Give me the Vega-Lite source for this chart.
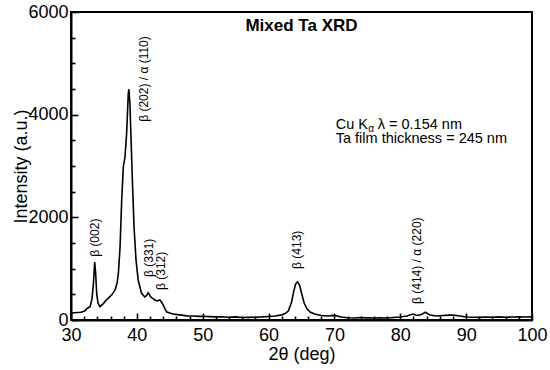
{
  "$schema": "https://vega.github.io/schema/vega-lite/v6.json",
  "width": 461,
  "height": 308,
  "autosize": "none",
  "padding": {"left": 71, "top": 12, "right": 18, "bottom": 50},
  "background": "white",
  "config": {
    "view": {"stroke": "black", "strokeWidth": 2},
    "font": "Liberation Sans"
  },
  "datasets": {
    "curve": [
      {"x": 30, "y": 135}, {"x": 30.5, "y": 140}, {"x": 31, "y": 145}, {"x": 31.5, "y": 150},
      {"x": 32, "y": 170}, {"x": 32.5, "y": 230}, {"x": 32.9, "y": 260}, {"x": 33.2, "y": 420},
      {"x": 33.4, "y": 700}, {"x": 33.6, "y": 1130}, {"x": 33.75, "y": 900}, {"x": 33.9, "y": 520},
      {"x": 34.1, "y": 330}, {"x": 34.4, "y": 260}, {"x": 34.9, "y": 320}, {"x": 35.3, "y": 380},
      {"x": 35.7, "y": 430}, {"x": 36.2, "y": 490}, {"x": 36.7, "y": 590}, {"x": 37.0, "y": 720},
      {"x": 37.2, "y": 915}, {"x": 37.45, "y": 1430}, {"x": 37.7, "y": 2340}, {"x": 37.95, "y": 2990},
      {"x": 38.2, "y": 3180}, {"x": 38.45, "y": 3640}, {"x": 38.7, "y": 4420}, {"x": 38.8, "y": 4495},
      {"x": 38.95, "y": 4200}, {"x": 39.06, "y": 3770}, {"x": 39.3, "y": 2790}, {"x": 39.57, "y": 1820},
      {"x": 39.87, "y": 1170}, {"x": 40.2, "y": 780}, {"x": 40.7, "y": 525}, {"x": 41.2, "y": 450},
      {"x": 41.5, "y": 480}, {"x": 41.7, "y": 530}, {"x": 41.9, "y": 500}, {"x": 42.1, "y": 450},
      {"x": 42.4, "y": 420}, {"x": 42.75, "y": 390}, {"x": 43.1, "y": 370}, {"x": 43.5, "y": 390},
      {"x": 43.8, "y": 340}, {"x": 44.0, "y": 290}, {"x": 44.3, "y": 210}, {"x": 44.5, "y": 160},
      {"x": 45, "y": 135}, {"x": 45.5, "y": 117}, {"x": 46.5, "y": 100}, {"x": 47.6, "y": 80},
      {"x": 48.5, "y": 78}, {"x": 49.5, "y": 70}, {"x": 50, "y": 72}, {"x": 51, "y": 65},
      {"x": 52, "y": 60}, {"x": 53, "y": 62}, {"x": 54, "y": 55}, {"x": 55, "y": 60},
      {"x": 56, "y": 50}, {"x": 57, "y": 52}, {"x": 58, "y": 55}, {"x": 59, "y": 60},
      {"x": 60, "y": 68}, {"x": 61, "y": 78}, {"x": 62, "y": 100}, {"x": 62.5, "y": 125},
      {"x": 63, "y": 175}, {"x": 63.5, "y": 350}, {"x": 63.8, "y": 545}, {"x": 64.1, "y": 700},
      {"x": 64.4, "y": 745}, {"x": 64.7, "y": 680}, {"x": 65, "y": 525}, {"x": 65.4, "y": 330},
      {"x": 65.8, "y": 225}, {"x": 66.3, "y": 155}, {"x": 67, "y": 117}, {"x": 68, "y": 88},
      {"x": 69, "y": 78}, {"x": 69.7, "y": 90}, {"x": 70.2, "y": 85}, {"x": 71, "y": 58},
      {"x": 72, "y": 45}, {"x": 73, "y": 40}, {"x": 74, "y": 48}, {"x": 75, "y": 42},
      {"x": 76, "y": 38}, {"x": 77, "y": 45}, {"x": 78, "y": 40}, {"x": 79, "y": 48},
      {"x": 80, "y": 58}, {"x": 81, "y": 78}, {"x": 81.9, "y": 117}, {"x": 82.5, "y": 88},
      {"x": 83.2, "y": 105}, {"x": 83.8, "y": 150}, {"x": 84.5, "y": 97}, {"x": 85.5, "y": 78},
      {"x": 86.5, "y": 88}, {"x": 87.5, "y": 95}, {"x": 88, "y": 97}, {"x": 89, "y": 78},
      {"x": 90, "y": 58}, {"x": 91, "y": 55}, {"x": 92, "y": 52}, {"x": 93, "y": 58},
      {"x": 94, "y": 55}, {"x": 95, "y": 60}, {"x": 96, "y": 55}, {"x": 97, "y": 58},
      {"x": 98, "y": 62}, {"x": 99, "y": 57}, {"x": 100, "y": 60}
    ],
    "peaks": [
      {"x": 33.64, "y": 1230, "t": "β (002)"},
      {"x": 41.1, "y": 3860, "t": "β (202) / α (110)"},
      {"x": 41.9, "y": 840, "t": "β (331)"},
      {"x": 43.7, "y": 585, "t": "β (312)"},
      {"x": 64.3, "y": 995, "t": "β (413)"},
      {"x": 82.5, "y": 312, "t": "β (414) / α (220)"}
    ],
    "title": [{"x": 65, "y": 5720, "t": "Mixed Ta XRD"}],
    "note": [{"x": 70.2, "y": 3520, "t": "Ta film thickness = 245 nm"}],
    "cu1": [{"x": 70.2, "y": 3799, "t": "Cu K"}],
    "cu2": [{"x": 70.2, "y": 3799, "t": "α"}],
    "cu3": [{"x": 70.2, "y": 3799, "t": "λ = 0.154 nm"}]
  },
  "resolve": {"axis": {"x": "independent", "y": "independent"}},
  "layer": [
    {
      "data": {"name": "curve"},
      "mark": {"type": "line", "color": "black", "strokeWidth": 1.6, "clip": true},
      "encoding": {
        "x": {
          "field": "x", "type": "quantitative",
          "scale": {"domain": [30, 100], "nice": false, "zero": false},
          "axis": {
            "orient": "bottom",
            "title": "2θ (deg)",
            "values": [30, 40, 50, 60, 70, 80, 90, 100],
            "ticks": false, "tickSize": 0,
            "labelPadding": 6,
            "domainWidth": 2, "domainColor": "black",
            "labelFont": "Liberation Sans", "labelFontSize": 18, "labelColor": "black", "labelFlush": false,
            "titleFont": "Liberation Sans", "titleFontSize": 18, "titleFontWeight": "normal", "titleColor": "black",
            "titlePadding": 1, "grid": false
          }
        },
        "y": {
          "field": "y", "type": "quantitative",
          "scale": {"domain": [0, 6000], "nice": false},
          "axis": {
            "orient": "left",
            "title": "Intensity (a.u.)",
            "values": [0, 2000, 4000, 6000],
            "format": "d",
            "ticks": false, "tickSize": 0,
            "labelPadding": 3,
            "domainWidth": 2, "domainColor": "black",
            "labelFont": "Liberation Sans", "labelFontSize": 18, "labelColor": "black", "labelFlush": false,
            "titleFont": "Liberation Sans", "titleFontSize": 18, "titleFontWeight": "normal", "titleColor": "black",
            "titlePadding": -3, "grid": false
          }
        }
      }
    },
    {
      "data": {"name": "peaks"},
      "mark": {"type": "text", "angle": 270, "align": "left", "baseline": "middle", "fontSize": 12, "font": "Liberation Sans", "color": "black"},
      "encoding": {
        "x": {
          "field": "x", "type": "quantitative",
          "axis": {
            "orient": "top", "offset": -308,
            "title": null, "labels": false, "domain": false, "grid": false,
            "values": [30,32,34,36,38,40,42,44,46,48,50,52,54,56,58,60,62,64,66,68,70,72,74,76,78,80,82,84,86,88,90,92,94,96,98,100],
            "tickSize": {"condition": {"test": "datum.value % 10 === 0", "value": 7}, "value": 4},
            "tickWidth": 1.6, "tickColor": "black"
          }
        },
        "y": {
          "field": "y", "type": "quantitative",
          "axis": {
            "orient": "right", "offset": -461,
            "title": null, "labels": false, "domain": false, "grid": false,
            "values": [0,500,1000,1500,2000,2500,3000,3500,4000,4500,5000,5500,6000],
            "tickSize": {"condition": {"test": "datum.value % 2000 === 0", "value": 7}, "value": 4},
            "tickWidth": 1.6, "tickColor": "black"
          }
        },
        "text": {"field": "t"}
      }
    },
    {
      "data": {"name": "title"},
      "mark": {"type": "text", "align": "center", "baseline": "middle", "fontSize": 17, "fontWeight": "bold", "font": "Liberation Sans", "color": "black"},
      "encoding": {"x": {"field": "x", "type": "quantitative", "axis": null}, "y": {"field": "y", "type": "quantitative", "axis": null}, "text": {"field": "t"}}
    },
    {
      "data": {"name": "note"},
      "mark": {"type": "text", "align": "left", "baseline": "middle", "fontSize": 14.5, "font": "Liberation Sans", "color": "black"},
      "encoding": {"x": {"field": "x", "type": "quantitative", "axis": null}, "y": {"field": "y", "type": "quantitative", "axis": null}, "text": {"field": "t"}}
    },
    {
      "data": {"name": "cu1"},
      "mark": {"type": "text", "align": "left", "baseline": "middle", "fontSize": 14.5, "font": "Liberation Sans", "color": "black"},
      "encoding": {"x": {"field": "x", "type": "quantitative", "axis": null}, "y": {"field": "y", "type": "quantitative", "axis": null}, "text": {"field": "t"}}
    },
    {
      "data": {"name": "cu2"},
      "mark": {"type": "text", "align": "left", "baseline": "middle", "fontSize": 10, "font": "Liberation Sans", "color": "black", "dx": 32.5, "dy": 4},
      "encoding": {"x": {"field": "x", "type": "quantitative", "axis": null}, "y": {"field": "y", "type": "quantitative", "axis": null}, "text": {"field": "t"}}
    },
    {
      "data": {"name": "cu3"},
      "mark": {"type": "text", "align": "left", "baseline": "middle", "fontSize": 14.5, "font": "Liberation Sans", "color": "black", "dx": 42},
      "encoding": {"x": {"field": "x", "type": "quantitative", "axis": null}, "y": {"field": "y", "type": "quantitative", "axis": null}, "text": {"field": "t"}}
    }
  ]
}
